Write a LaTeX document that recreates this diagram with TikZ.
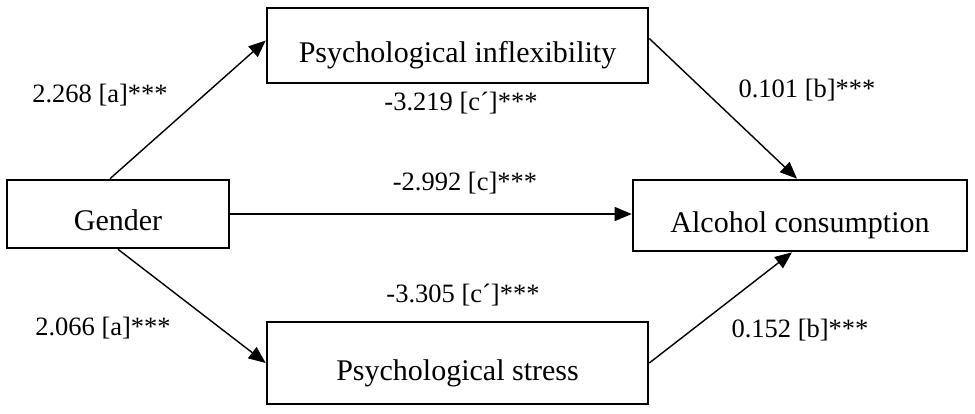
\documentclass[tikz,border=0pt]{standalone}
\newif\ifpalat
\IfFileExists{mathpazo.sty}{\IfFileExists{pplr8t.tfm}{\IfFileExists{pplr8c.tfm}{\palattrue}{}}{}}{}
\ifpalat
  \usepackage[T1]{fontenc}
  \usepackage{mathpazo}
\else
  \usepackage{fontspec}
  \setmainfont{Liberation Serif}
\fi
\usetikzlibrary{arrows.meta}
\begin{document}
\begin{tikzpicture}[x=1pt,y=1pt,
  varbox/.style={draw=black,line width=2.6pt,inner sep=0pt,text height=40pt,text depth=6pt,font=\fontsize{30}{34}\selectfont},
  coef/.style={inner sep=0pt,font=\fontsize{26.5}{30}\selectfont},
  path/.style={line width=1.4pt,-{Triangle[length=17pt,width=14pt]}}]
\useasboundingbox (0,0) rectangle (975,-414);
\node[varbox,minimum width=381pt,minimum height=75pt] (infl) at (457.5,-45.5) {Psychological inflexibility};
\node[varbox,minimum width=222pt,minimum height=68pt] (gender) at (118,-214) {Gender};
\node[varbox,minimum width=334pt,minimum height=71pt] (alc) at (800,-215.5) {Alcohol consumption};
\node[varbox,minimum width=381pt,minimum height=82pt] (stress) at (457.5,-363) {Psychological stress};
\draw[path] ([xshift=-8pt]gender.north) -- ([yshift=5pt]infl.west);
\draw[path] (gender.south) -- (stress.west);
\draw[path] (gender.east) -- (gender.east -| alc.west);
\draw[path] ([yshift=7pt]infl.east) -- ([xshift=-3pt]alc.north);
\draw[path] (stress.east) -- ([xshift=-8pt]alc.south);
\node[coef] (l1) at (100,-95) {2.268 [a]***};
\node[coef] (l2) at (461,-103) {-3.219 [c\textasciiacute]***};
\node[coef] (l3) at (807,-90) {0.101 [b]***};
\node[coef] (l4) at (465,-183) {-2.992 [c]***};
\node[coef] (l5) at (463,-295) {-3.305 [c\textasciiacute]***};
\node[coef] (l6) at (103,-328) {2.066 [a]***};
\node[coef] (l7) at (800,-330) {0.152 [b]***};
\end{tikzpicture}
\end{document}
